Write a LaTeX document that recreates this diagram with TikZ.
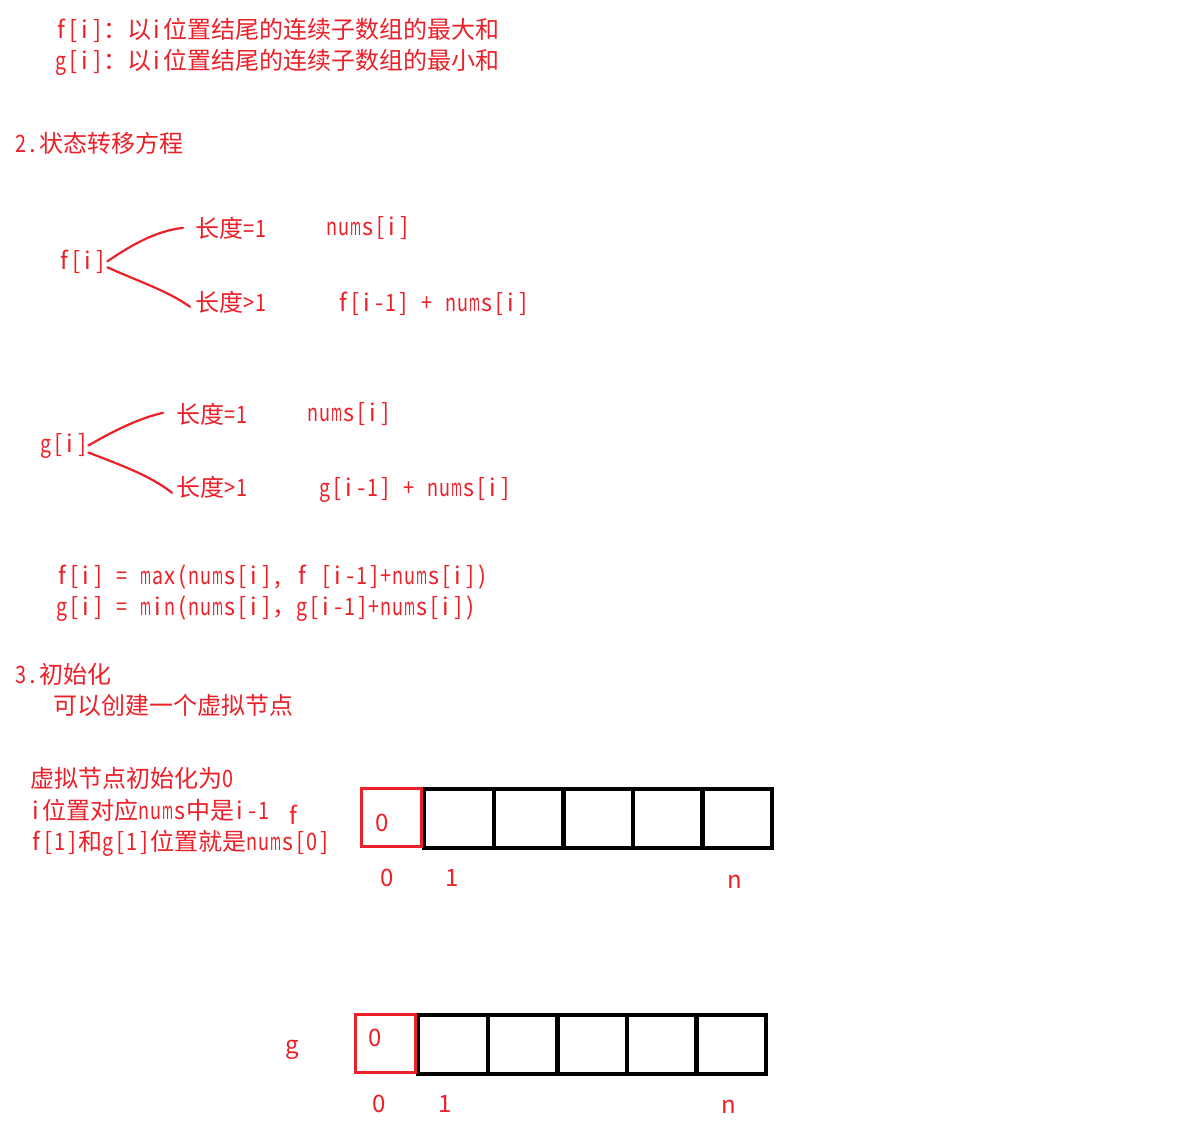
\documentclass[tikz,border=0pt]{standalone}
\usepackage{fontspec}
\usepackage{graphicx}
\setmainfont{Noto Sans CJK SC}
\definecolor{myred}{RGB}{236,32,40}
\newlength\mw
\newcommand\Mc[1]{\settowidth\mw{#1}\ifdim\mw>11pt\makebox[12pt]{\resizebox{11pt}{\height}{#1}}\else\makebox[12pt]{#1}\fi}
\makeatletter
\newcommand\M[1]{\@tfor\mch:=#1\do{\expandafter\Mc\expandafter{\mch}}}
\makeatother
\tikzset{
  txt/.style={anchor=base west, inner sep=0pt, text=myred},
  lbl/.style={anchor=center, inner sep=0pt, text=myred},
  hand/.style={draw=myred, line width=2.2pt, line cap=round, line join=round},
  cell/.style={draw=black, line width=4pt, minimum width=70pt, minimum height=59pt, inner sep=0pt},
  redcell/.style={draw=myred, line width=3.5pt, minimum width=60pt, minimum height=58pt, inner sep=0pt}
}
\begin{document}
\begin{tikzpicture}[x=1pt, y=-1pt, font=\fontsize{24pt}{28pt}\selectfont]
\fill[white] (0,0) rectangle (1179,1130);
\useasboundingbox (0,0) rectangle (1179,1130);

% definitions
\node[txt] (def1) at (55,38) {\M{f[i]}：以\M{i}位置结尾的连续子数组的最大和};
\node[txt] (def2) at (55,69) {\M{g[i]}：以\M{i}位置结尾的连续子数组的最小和};

% section 2
\node[txt] (sec2) at (15,152) {\M{2.}状态转移方程};

\node[txt] (fi) at (58,269) {\M{f[i]}};
\node[txt] (le1) at (195,237) {长度\M{=1}};
\node[txt] (fn1) at (326,235) {\M{nums[i]}};
\node[txt] (le2) at (195,311) {长度\M{>1}};
\node[txt] (fn2) at (337,311) {\M{f[i-1]{~}+{~}nums[i]}};

\draw[hand] ([xshift=1pt]fi.east) .. controls (130,246) and (155,231) .. ([xshift=-12pt]le1.west);
\draw[hand] ([xshift=1pt,yshift=-6pt]fi.east) .. controls (140,282) and (168,291) .. ([xshift=-5pt,yshift=-5pt]le2.west);

\node[txt] (gi) at (40,452) {\M{g[i]}};
\node[txt] (le3) at (176,423) {长度\M{=1}};
\node[txt] (gn1) at (307,421) {\M{nums[i]}};
\node[txt] (le4) at (176,496) {长度\M{>1}};
\node[txt] (gn2) at (319,496) {\M{g[i-1]{~}+{~}nums[i]}};

\draw[hand] ([xshift=0pt]gi.east) .. controls (115,430) and (140,418) .. ([xshift=-13pt,yshift=1pt]le3.west);
\draw[hand] ([xshift=0pt,yshift=-7pt]gi.east) .. controls (115,463) and (150,475) .. ([xshift=-4pt,yshift=-6pt]le4.west);

% equations
\node[txt] (eq1) at (56,584) {\M{f[i]{~}={~}max(nums[i],{~}f{~}[i-1]+nums[i])}};
\node[txt] (eq2) at (56,615) {\M{g[i]{~}={~}min(nums[i]}，\M{g[i-1]+nums[i])}};

% section 3
\node[txt] (sec3) at (15,683) {\M{3.}初始化};
\node[txt] (virt) at (53,714) {可以创建一个虚拟节点};

\node[txt] (n1) at (30,787) {虚拟节点初始化为\M{0}};
\node[txt] (n2) at (30,819) {\M{i}位置对应\M{nums}中是\M{i-1}};
\node[txt] (n3) at (30,850) {\M{f[1]}和\M{g[1]}位置就是\M{nums[0]}};
\node[lbl] (flab) at (293,815) {f};

% f array
\node[cell] (f1) at (458.5,818.5) {};
\node[cell] (f2) at (528.5,818.5) {};
\node[cell] (f3) at (598,818.5) {};
\node[cell] (f4) at (667.5,818.5) {};
\node[cell] (f5) at (737,818.5) {};
\node[redcell] (f0) at (391.5,817.5) {};
\node[lbl] (f0v) at (382,823) {0};
\node[lbl] (fi0) at (387,878) {0};
\node[lbl] (fi1) at (452,878) {1};
\node[lbl] (fin) at (735,882) {n};

% g array
\node[lbl] (glab) at (292,1050) {g};
\node[cell] (g1) at (452.5,1044.5) {};
\node[cell] (g2) at (522.5,1044.5) {};
\node[cell] (g3) at (592,1044.5) {};
\node[cell] (g4) at (661.5,1044.5) {};
\node[cell] (g5) at (731,1044.5) {};
\node[redcell] (g0) at (385.5,1043.5) {};
\node[lbl] (g0v) at (375,1038) {0};
\node[lbl] (gi0) at (379,1104) {0};
\node[lbl] (gi1) at (445,1104) {1};
\node[lbl] (gin) at (729,1107) {n};
\end{tikzpicture}
\end{document}
